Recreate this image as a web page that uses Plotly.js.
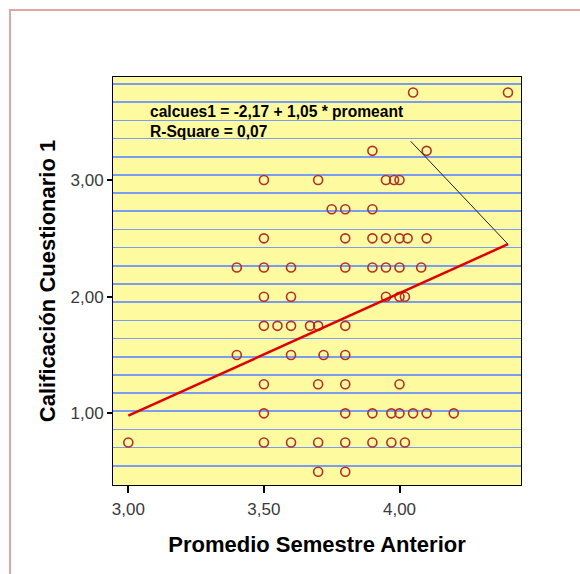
<!DOCTYPE html>
<html>
<head>
<meta charset="utf-8">
<script src="https://cdn.plot.ly/plotly-3.0.1.min.js"></script>
<style>
  html, body { margin: 0; padding: 0; background: #ffffff; }
  #frame { position: absolute; left: 9px; top: 9px; width: 620px; height: 620px;
           border-left: 2px solid #e3a4a4; border-top: 2px solid #e3a4a4; pointer-events: none; z-index: 5; }
  #chart { position: absolute; left: 0; top: 0; width: 580px; height: 574px; }
</style>
</head>
<body>
<div id="chart"></div>
<div id="frame"></div>
<script>
// Promedio Semestre Anterior (x) and Calificación Cuestionario 1 (y), one entry per student
const promeant = [
  4.05, 4.40,
  3.90, 4.10,
  3.50, 3.70, 3.95, 3.98, 4.00,
  3.75, 3.80, 3.90,
  3.50, 3.80, 3.90, 3.95, 4.00, 4.03, 4.10,
  3.40, 3.50, 3.60, 3.80, 3.90, 3.95, 4.00, 4.08,
  3.50, 3.60, 3.95, 4.00, 4.02,
  3.50, 3.55, 3.60, 3.67, 3.70, 3.80,
  3.40, 3.60, 3.72, 3.80,
  3.50, 3.70, 3.80, 4.00,
  3.50, 3.80, 3.90, 3.97, 4.00, 4.05, 4.10, 4.20,
  3.00, 3.50, 3.60, 3.70, 3.80, 3.90, 3.97, 4.02,
  3.70, 3.80
];
const calcues1 = [
  3.75, 3.75,
  3.25, 3.25,
  3.00, 3.00, 3.00, 3.00, 3.00,
  2.75, 2.75, 2.75,
  2.50, 2.50, 2.50, 2.50, 2.50, 2.50, 2.50,
  2.25, 2.25, 2.25, 2.25, 2.25, 2.25, 2.25, 2.25,
  2.00, 2.00, 2.00, 2.00, 2.00,
  1.75, 1.75, 1.75, 1.75, 1.75, 1.75,
  1.50, 1.50, 1.50, 1.50,
  1.25, 1.25, 1.25, 1.25,
  1.00, 1.00, 1.00, 1.00, 1.00, 1.00, 1.00, 1.00,
  0.75, 0.75, 0.75, 0.75, 0.75, 0.75, 0.75, 0.75,
  0.50, 0.50
];
// Fitted model as reported
const intercept = -2.17;
const slope = 1.05;
const rSquare = 0.07;
const xTicks = [3.0, 3.5, 4.0];
const yTicks = [1.0, 2.0, 3.0];
// Where the leader line from the equation label starts
const labelAnchor = [4.036, 3.345];

const fmt = v => v.toFixed(2).replace('.', ',');
const xMin = Math.min(...promeant), xMax = Math.max(...promeant);
const fitX = [xMin, xMax];
const fitY = fitX.map(x => intercept + slope * x);

const traces = [
  { type: 'scatter', mode: 'markers', x: promeant, y: calcues1,
    marker: { symbol: 'circle-open', size: 9, color: '#b3302b', line: { width: 1.6, color: '#b3302b' } },
    hoverinfo: 'x+y', showlegend: false },
  { type: 'scatter', mode: 'lines', x: fitX, y: fitY,
    line: { color: '#e00000', width: 2.5 }, hoverinfo: 'skip', showlegend: false },
  // empty trace so the decorative ruled-paper axis is built
  { type: 'scatter', mode: 'markers', x: [], y: [], yaxis: 'y2', hoverinfo: 'skip', showlegend: false }
];

const eqText = '<b>calcues1 = ' + fmt(intercept) + ' + ' + fmt(slope) + ' * promeant</b><br><b>R-Square = ' + fmt(rSquare) + '</b>';

const layout = {
  width: 580, height: 574,
  margin: { l: 113, r: 59, t: 77, b: 89, pad: 0 },
  paper_bgcolor: 'rgba(0,0,0,0)',
  plot_bgcolor: '#fdfa9f',
  separators: ', ',
  showlegend: false,
  font: { family: 'Liberation Sans, Arial, sans-serif', color: '#000' },
  xaxis: {
    range: [2.9435, 4.448], tickvals: xTicks, ticktext: xTicks.map(fmt),
    showgrid: false, zeroline: false,
    showline: true, linecolor: '#000', linewidth: 1, mirror: true,
    ticks: 'outside', ticklen: 7, tickwidth: 2, tickcolor: '#000',
    tickfont: { size: 17, color: '#3a3a3a' }, ticklabelstandoff: 2,
    title: { text: 'Promedio Semestre Anterior', font: { size: 22, weight: 700, color: '#000' }, standoff: 18 }
  },
  yaxis: {
    range: [0.386, 3.883], tickvals: yTicks, ticktext: yTicks.map(fmt),
    showgrid: false, zeroline: false,
    showline: true, linecolor: '#000', linewidth: 1, mirror: true,
    ticks: 'outside', ticklen: 5, tickwidth: 2, tickcolor: '#000',
    tickfont: { size: 17, color: '#3a3a3a' },
    title: { text: 'Calificación Cuestionario 1', font: { size: 22, weight: 700, color: '#000' }, standoff: 8 }
  },
  yaxis2: {
    overlaying: 'y', side: 'right', range: [0, 22.44], tick0: 0.055, dtick: 1,
    showgrid: true, gridcolor: '#7b9cf2', gridwidth: 1.6,
    showticklabels: false, ticks: '', zeroline: false, showline: false
  },
  annotations: [
    { xref: 'paper', yref: 'paper', x: 0.087, y: 0.8914, xanchor: 'left', yanchor: 'middle',
      align: 'left', showarrow: false, text: eqText,
      font: { size: 15.6, color: '#000' } },
    { xref: 'x', yref: 'y', x: fitX[1], y: fitY[1], axref: 'x', ayref: 'y',
      ax: labelAnchor[0], ay: labelAnchor[1], text: '', showarrow: true,
      arrowhead: 0, arrowwidth: 1, arrowcolor: '#222', standoff: 0, startstandoff: 0 }
  ]
};

Plotly.newPlot('chart', traces, layout, { staticPlot: true, displayModeBar: false });
</script>
</body>
</html>
